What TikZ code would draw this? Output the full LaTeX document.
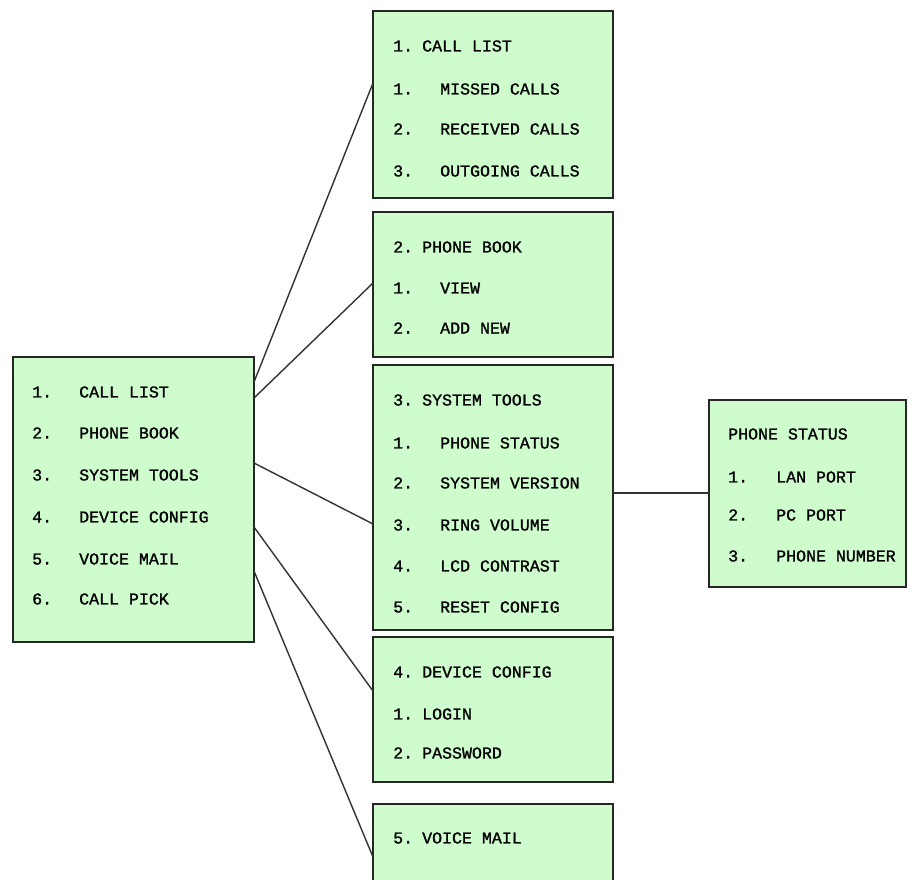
\documentclass[tikz,border=0pt]{standalone}
\usepackage{fontspec}
\usepackage{tikz}
\newfontfamily\menufont[FakeBold=1.2]{Liberation Mono}
\definecolor{menugreen}{RGB}{206,252,204}
\newcommand{\nr}[2]{\makebox[#1pt][l]{#2}}
\tikzset{
	menubox/.style={draw=black!85, line width=1.5pt, fill=menugreen, inner sep=0pt, outer sep=0pt, anchor=north west},
	row/.style={anchor=west, inner sep=0pt, font=\menufont\fontsize{16.6}{20}\selectfont},
	link/.style={draw=black!80, line width=1.4pt},
}
\begin{document}
\begin{tikzpicture}[x=1pt,y=-1pt]
	\useasboundingbox (0,0) rectangle (913,879);
	\clip (0,0) rectangle (913,879);
	\fill[white] (0,0) rectangle (913,879);
	% boxes
	\node[menubox, minimum width=241pt, minimum height=285pt] (main) at (13,357) {};
	\node[menubox, minimum width=240pt, minimum height=187pt] (list) at (373,11) {};
	\node[menubox, minimum width=240pt, minimum height=145pt] (book) at (373,212) {};
	\node[menubox, minimum width=240pt, minimum height=265pt] (tools) at (373,365) {};
	\node[menubox, minimum width=240pt, minimum height=145pt] (device) at (373,637) {};
	\node[menubox, minimum width=240pt, minimum height=120pt] (voice) at (373,804) {};
	\node[menubox, minimum width=197pt, minimum height=187pt] (status) at (709,400) {};
	%
	\node[row] (main1) at (32,392) {\nr{47}{1.}CALL LIST};
	\node[row] (main2) at (32,433) {\nr{47}{2.}PHONE BOOK};
	\node[row] (main3) at (32,475) {\nr{47}{3.}SYSTEM TOOLS};
	\node[row] (main4) at (32,517) {\nr{47}{4.}DEVICE CONFIG};
	\node[row] (main5) at (32,559) {\nr{47}{5.}VOICE MAIL};
	\node[row] (main6) at (32,599) {\nr{47}{6.}CALL PICK};
	%
	\node[row] (list0) at (393,46) {\nr{29}{1.}CALL LIST};
	\node[row] (list1) at (393,89) {\nr{47}{1.}MISSED CALLS};
	\node[row] (list2) at (393,129) {\nr{47}{2.}RECEIVED CALLS};
	\node[row] (list3) at (393,171) {\nr{47}{3.}OUTGOING CALLS};
	%
	\node[row] (book0) at (393,247) {\nr{29}{2.}PHONE BOOK};
	\node[row] (book1) at (393,288) {\nr{47}{1.}VIEW};
	\node[row] (book2) at (393,328) {\nr{47}{2.}ADD NEW};
	%
	\node[row] (tools0) at (393,400) {\nr{29}{3.}SYSTEM TOOLS};
	\node[row] (tools1) at (393,443) {\nr{47}{1.}PHONE STATUS};
	\node[row] (tools2) at (393,483) {\nr{47}{2.}SYSTEM VERSION};
	\node[row] (tools3) at (393,525) {\nr{47}{3.}RING VOLUME};
	\node[row] (tools4) at (393,566) {\nr{47}{4.}LCD CONTRAST};
	\node[row] (tools5) at (393,607) {\nr{47}{5.}RESET CONFIG};
	%
	\node[row] (device0) at (393,672) {\nr{29}{4.}DEVICE CONFIG};
	\node[row] (device1) at (393,714) {\nr{29}{1.}LOGIN};
	\node[row] (device2) at (393,753) {\nr{29}{2.}PASSWORD};
	%
	\node[row] (voice0) at (393,838) {\nr{29}{5.}VOICE MAIL};
	%
	\node[row] (status0) at (728,434) {PHONE STATUS};
	\node[row] (status1) at (728,477) {\nr{48}{1.}LAN PORT};
	\node[row] (status2) at (728,515) {\nr{48}{2.}PC PORT};
	\node[row] (status3) at (728,556) {\nr{48}{3.}PHONE NUMBER};
	% connectors
	\draw[link] ([yshift=-25pt]main.north east) -- ([yshift=-72pt]list.north west);
	\draw[link] ([yshift=-41pt]main.north east) -- ([yshift=-71pt]book.north west);
	\draw[link] ([yshift=-106pt]main.north east) -- ([yshift=-159pt]tools.north west);
	\draw[link] ([yshift=-170pt]main.north east) -- ([yshift=-54pt]device.north west);
	\draw[link] ([yshift=-214pt]main.north east) -- ([yshift=-53pt]voice.north west);
	\draw[link] ([yshift=-128pt]tools.north east) -- ([yshift=-93pt]status.north west);
\end{tikzpicture}
\end{document}
